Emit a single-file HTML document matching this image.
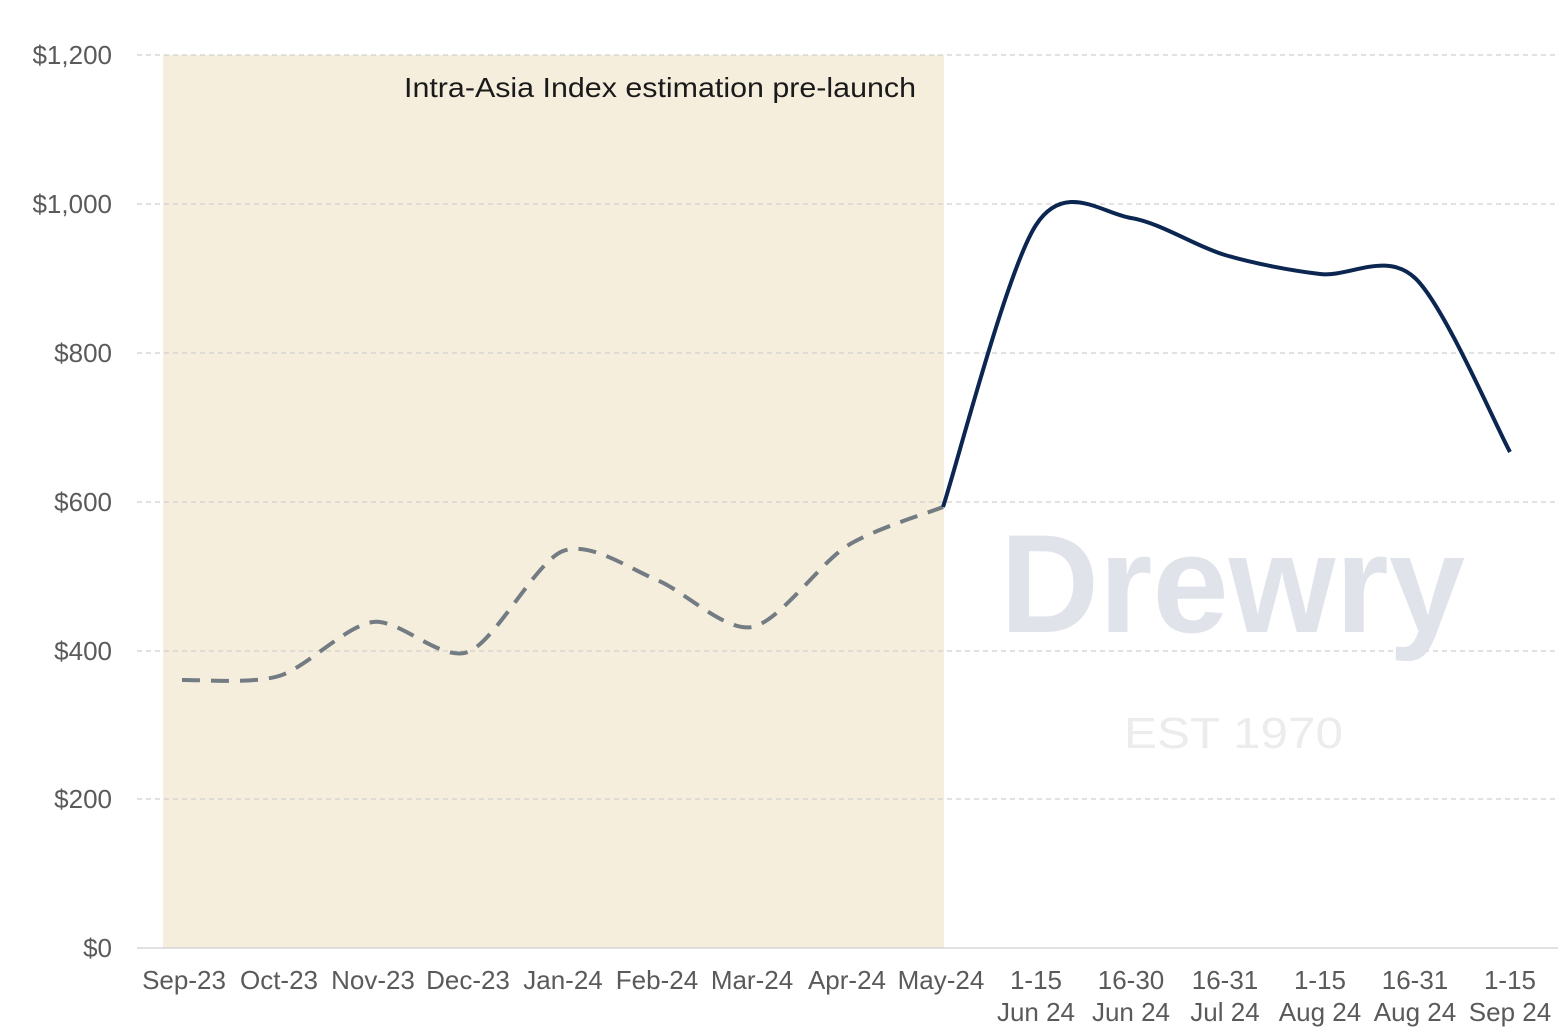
<!DOCTYPE html>
<html><head><meta charset="utf-8">
<style>
html,body{margin:0;padding:0;background:#fff;}
svg{display:block;font-family:"Liberation Sans",Arial,sans-serif;}
</style></head>
<body>
<svg id="c" width="1568" height="1030" viewBox="0 0 1568 1030" xmlns="http://www.w3.org/2000/svg">
<rect x="163" y="55" width="781" height="893" fill="#f5eedc"/>
<g stroke="#d0d0d0" stroke-width="1.3" stroke-dasharray="5,4">
<line x1="137" y1="55" x2="1558" y2="55"/>
<line x1="137" y1="204" x2="1558" y2="204"/>
<line x1="137" y1="353" x2="1558" y2="353"/>
<line x1="137" y1="502" x2="1558" y2="502"/>
<line x1="137" y1="651" x2="1558" y2="651"/>
<line x1="137" y1="799" x2="1558" y2="799"/>
</g>
<line x1="137" y1="948" x2="1558" y2="948" stroke="#cfcfcf" stroke-width="1.3"/>
<g fill="#5a5a5a" font-size="26" text-anchor="end">
<text x="112" y="64">$1,200</text>
<text x="112" y="213">$1,000</text>
<text x="112" y="362">$800</text>
<text x="112" y="511">$600</text>
<text x="112" y="660">$400</text>
<text x="112" y="808">$200</text>
<text x="112" y="957">$0</text>
</g>
<text x="1000" y="632" font-size="140" font-weight="bold" fill="#e0e4ea" textLength="465" lengthAdjust="spacingAndGlyphs">Drewry</text>
<text x="1124" y="748" font-size="44" fill="#ececec" textLength="219" lengthAdjust="spacingAndGlyphs">EST 1970</text>
<text x="404" y="97" font-size="28" fill="#1a1a1a" textLength="512" lengthAdjust="spacingAndGlyphs">Intra-Asia Index estimation pre-launch</text>
<g fill="#5a5a5a" font-size="26" text-anchor="middle">
<text x="184" y="989">Sep-23</text>
<text x="279" y="989">Oct-23</text>
<text x="373" y="989">Nov-23</text>
<text x="468" y="989">Dec-23</text>
<text x="563" y="989">Jan-24</text>
<text x="657" y="989">Feb-24</text>
<text x="752" y="989">Mar-24</text>
<text x="847" y="989">Apr-24</text>
<text x="941" y="989">May-24</text>
<text x="1036" y="989">1-15</text><text x="1036" y="1021">Jun 24</text>
<text x="1131" y="989">16-30</text><text x="1131" y="1021">Jun 24</text>
<text x="1225" y="989">16-31</text><text x="1225" y="1021">Jul 24</text>
<text x="1320" y="989">1-15</text><text x="1320" y="1021">Aug 24</text>
<text x="1415" y="989">16-31</text><text x="1415" y="1021">Aug 24</text>
<text x="1510" y="989">1-15</text><text x="1510" y="1021">Sep 24</text>
</g>
<path id="d" fill="none" stroke="#737b83" stroke-width="4" stroke-dasharray="18,11"/>
<path id="s" fill="none" stroke="#0b2650" stroke-width="4"/>
</svg>
<script>
function cr(p,t){let d="M"+p[0][0]+","+p[0][1];for(let i=0;i<p.length-1;i++){const p0=p[i-1]||p[i],p1=p[i],p2=p[i+1],p3=p[i+2]||p2;d+=" C"+(p1[0]+(p2[0]-p0[0])/t)+","+(p1[1]+(p2[1]-p0[1])/t)+" "+(p2[0]-(p3[0]-p1[0])/t)+","+(p2[1]-(p3[1]-p1[1])/t)+" "+p2[0]+","+p2[1];}return d;}
document.getElementById("d").setAttribute("d",cr([[182,680],[279,676],[373,622],[468,652],[563,551],[657,580],[752,627],[847,546],[943,507]],7));
document.getElementById("s").setAttribute("d",cr([[943,507],[1036,225],[1131,218],[1225,255],[1320,274],[1415,278],[1510,452]],6.5));
</script>
</body></html>
